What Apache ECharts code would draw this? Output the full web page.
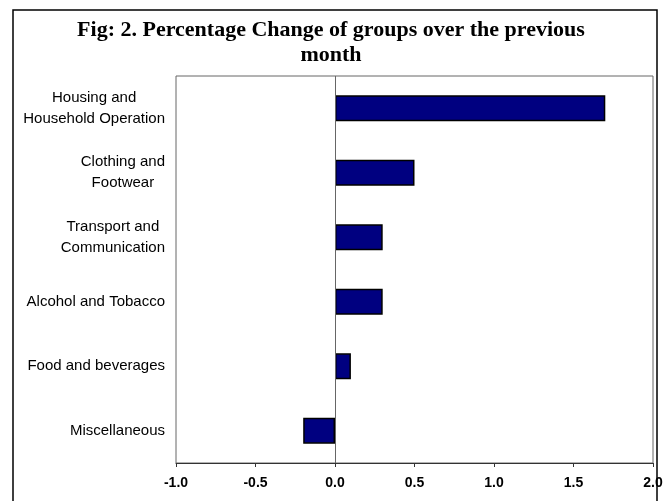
<!DOCTYPE html>
<html>
<head>
<meta charset="utf-8">
<script src="https://cdn.jsdelivr.net/npm/echarts@6/dist/echarts.min.js"></script>
<style>
html,body{margin:0;padding:0;background:#fff;}
#chart{width:670px;height:501px;}
</style>
</head>
<body>
<div id="chart"></div>
<script>
const titleText = 'Fig: 2. Percentage Change of groups over the previous\nmonth';
const categories = [
  'Housing and\nHousehold Operation',
  'Clothing and\nFootwear',
  'Transport and\nCommunication',
  'Alcohol and Tobacco',
  'Food and beverages',
  'Miscellaneous'
];
const values = [1.7, 0.5, 0.3, 0.3, 0.1, -0.2];
const xMin = -1.0, xMax = 2.0, xStep = 0.5;

const chart = echarts.init(document.getElementById('chart'), null, {renderer: 'canvas'});
chart.setOption({
  backgroundColor: '#ffffff',
  animation: false,
  graphic: [{
    type: 'rect',
    shape: {x: 13, y: 10, width: 644, height: 520},
    style: {fill: 'none', stroke: '#000', lineWidth: 1.5},
    silent: true,
    z: 0
  }],
  title: {
    text: titleText,
    left: 326,
    top: 13,
    textAlign: 'center',
    textStyle: {
      fontFamily: 'Liberation Serif',
      fontWeight: 'bold',
      fontSize: 22,
      lineHeight: 25,
      color: '#000'
    }
  },
  grid: {
    left: 176, right: 17, top: 76, bottom: 38,
    show: true,
    borderColor: '#666',
    borderWidth: 1,
    containLabel: false
  },
  xAxis: {
    type: 'value',
    min: xMin, max: xMax, interval: xStep,
    axisLine: {show: true, lineStyle: {color: '#333', width: 1}},
    axisTick: {show: true, length: 4, lineStyle: {color: '#333'}},
    splitLine: {show: false},
    axisLabel: {
      margin: 13,
      fontFamily: 'Liberation Sans',
      fontWeight: 'bold',
      fontSize: 14,
      color: '#000',
      formatter: v => v.toFixed(1)
    }
  },
  yAxis: {
    type: 'category',
    data: categories,
    inverse: true,
    axisLine: {show: false, onZero: false},
    axisTick: {show: false},
    axisLabel: {
      margin: 11,
      fontFamily: 'Liberation Sans',
      fontSize: 15,
      color: '#000',
      align: 'right',
      formatter: v => v.split('\n').map(l => '{c|' + l + '}').join('\n'),
      rich: {
        c: {
          align: 'center',
          fontFamily: 'Liberation Sans',
          fontSize: 15,
          lineHeight: 21,
          color: '#000'
        }
      }
    }
  },
  series: [{
    type: 'bar',
    data: values,
    barWidth: '40%',
    itemStyle: {color: '#000080', borderColor: '#000', borderWidth: 1.5},
    markLine: {
      silent: true,
      symbol: ['none', 'none'],
      label: {show: false},
      lineStyle: {color: '#666', type: 'solid', width: 1},
      data: [{xAxis: 0}]
    }
  }]
});
</script>
</body>
</html>
